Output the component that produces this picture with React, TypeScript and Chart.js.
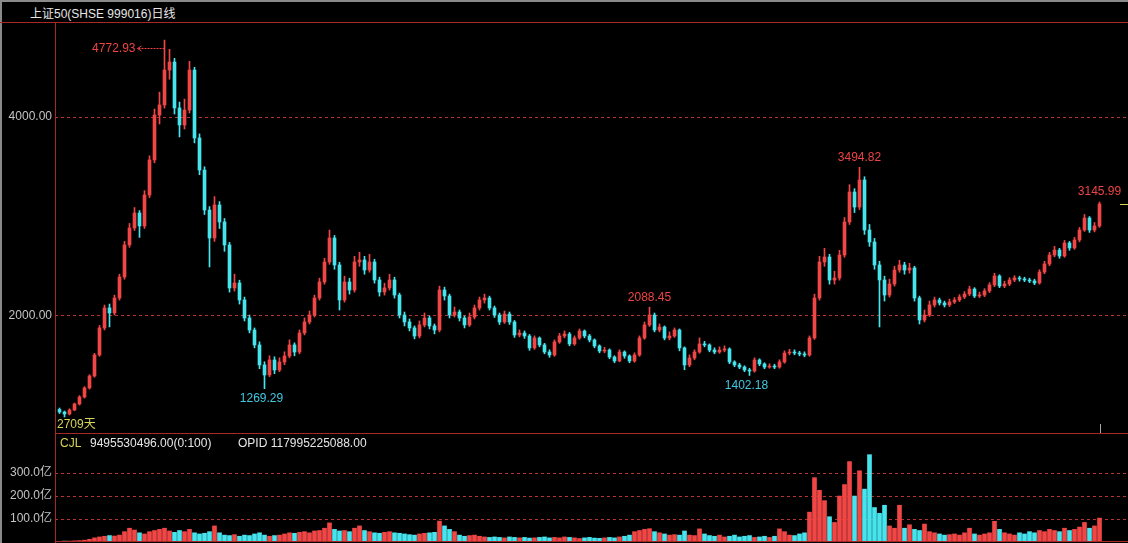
import React, { useEffect, useRef } from "react";
import { Chart, registerables } from "chart.js";

Chart.register(...registerables);

// ---------- texts ----------
const TITLE = "上证50(SHSE 999016)日线";
const DAYS_LABEL = "2709天";
const CJL_LABEL = "CJL";
const CJL_VALUE = "9495530496.00(0:100)";
const OPID_TEXT = "OPID 117995225088.00";

// ---------- data (aggregated candles, ~13 trading days each) ----------
const FIRST_OPEN = 1060;
const closes = [
  1035, 1015, 1055, 1116, 1186, 1277, 1397, 1608, 1880, 2081,
  2030, 2181, 2392, 2714, 2885, 3035, 2905, 3216, 3568, 4020,
  4121, 4472, 4553, 4091, 3920, 4070, 4472, 3789, 3467, 3065,
  2784, 3116, 2945, 2714, 2282, 2332, 2161, 1980, 1859, 1709,
  1508, 1407, 1558, 1457, 1538, 1598, 1709, 1638, 1829, 1940,
  2010, 2181, 2342, 2543, 2784, 2513, 2161, 2342, 2261, 2543,
  2563, 2462, 2543, 2362, 2241, 2282, 2362, 2211, 2010, 1940,
  1880, 1799, 1910, 1980, 1900, 1859, 2261, 2201, 2010, 2040,
  1980, 1910, 1990, 2081, 2161, 2181, 2081, 2010, 1940, 2020,
  1940, 1809, 1829, 1799, 1679, 1779, 1709, 1638, 1608, 1739,
  1799, 1819, 1719, 1779, 1849, 1799, 1759, 1699, 1648, 1658,
  1588, 1548, 1638, 1598, 1548, 1608, 1779, 1910, 2010, 1859,
  1889, 1779, 1799, 1859, 1679, 1508, 1578, 1638, 1719, 1709,
  1658, 1638, 1658, 1668, 1538, 1508, 1487, 1457, 1447, 1558,
  1518, 1487, 1497, 1487, 1538, 1628, 1638, 1628, 1618, 1608,
  1779, 2181, 2543, 2593, 2362, 2382, 2613, 2945, 3246, 3095,
  3367, 2864, 2744, 2513, 2362, 2211, 2322, 2462, 2513, 2462,
  2483, 2181, 1960, 2010, 2111, 2161, 2131, 2111, 2141, 2161,
  2191, 2221, 2271, 2201, 2211, 2251, 2312, 2402, 2302, 2322,
  2362, 2382, 2372, 2362, 2352, 2332, 2442, 2523, 2613, 2663,
  2603, 2734, 2684, 2764, 2864, 2985, 2864, 2905, 3126,
];
const highs = [
  1075, 1045, 1068, 1125, 1200, 1290, 1410, 1625, 1905, 2110,
  2120, 2210, 2420, 2750, 2930, 3090, 3060, 3260, 3610, 4080,
  4250, 4772.93, 4680, 4590, 4150, 4180, 4560, 4500, 3830, 3500,
  3100, 3200, 3150, 2980, 2740, 2420, 2360, 2190, 2010, 1880,
  1740, 1540, 1600, 1590, 1580, 1640, 1760, 1730, 1860, 1980,
  2050, 2210, 2380, 2580, 2864, 2810, 2540, 2400, 2380, 2600,
  2640, 2600, 2620, 2570, 2390, 2330, 2420, 2390, 2230, 2040,
  1970, 1900, 1950, 2030, 2000, 1920, 2300, 2290, 2220, 2090,
  2060, 2000, 2030, 2110, 2190, 2220, 2200, 2100, 2030, 2050,
  2040, 1955, 1860, 1850, 1815, 1800, 1790, 1725, 1660, 1760,
  1825, 1850, 1835, 1800, 1870, 1860, 1815, 1770, 1710, 1685,
  1670, 1600, 1660, 1650, 1610, 1630, 1800, 1940, 2088.45, 2030,
  1920, 1900, 1840, 1880, 1870, 1690, 1610, 1660, 1780, 1745,
  1720, 1680, 1690, 1700, 1680, 1550, 1525, 1500, 1475, 1580,
  1570, 1530, 1520, 1515, 1560, 1650, 1665, 1660, 1645, 1640,
  1800, 2220, 2600, 2680, 2620, 2450, 2660, 2990, 3320, 3280,
  3494.82, 3400, 2920, 2780, 2550, 2400, 2370, 2500, 2560, 2540,
  2530, 2500, 2200, 2060, 2150, 2190, 2180, 2150, 2170, 2185,
  2215, 2245, 2300, 2285, 2240, 2275, 2335, 2430, 2415, 2350,
  2385, 2405, 2400, 2390, 2380, 2370, 2465, 2550, 2640, 2700,
  2680, 2760, 2750, 2790, 2890, 3020, 3000, 2940, 3145.99,
];
const lows = [
  1020, 985, 1005, 1048, 1105, 1175, 1265, 1385, 1595, 1860,
  1890, 2010, 2160, 2370, 2690, 2860, 2790, 2880, 3190, 3540,
  3930, 4090, 4380, 4030, 3800, 3880, 4040, 3740, 3420, 3020,
  2493, 2750, 2880, 2650, 2240, 2250, 2120, 1950, 1830, 1680,
  1470, 1269.29, 1390, 1420, 1440, 1510, 1580, 1600, 1620, 1810,
  1920, 1990, 2160, 2320, 2520, 2470, 2060, 2140, 2220, 2240,
  2500, 2420, 2440, 2330, 2200, 2210, 2260, 2180, 1980, 1900,
  1850, 1770, 1780, 1890, 1870, 1820, 1840, 2160, 1980, 1990,
  1950, 1880, 1895, 1970, 2060, 2130, 2060, 1985, 1915, 1925,
  1915, 1785, 1790, 1775, 1655, 1665, 1690, 1620, 1585, 1595,
  1725, 1780, 1700, 1705, 1765, 1780, 1740, 1680, 1630, 1630,
  1570, 1530, 1540, 1575, 1530, 1535, 1595, 1765, 1895, 1840,
  1840, 1760, 1760, 1785, 1650, 1460, 1490, 1560, 1625, 1690,
  1640, 1620, 1625, 1640, 1520, 1490, 1470, 1440, 1402.18, 1435,
  1500, 1470, 1475, 1470, 1475, 1525, 1610, 1610, 1600, 1590,
  1595, 1765, 2160, 2500, 2320, 2320, 2360, 2590, 2920, 3040,
  3070, 2820, 2700, 2470, 1890, 2150, 2190, 2300, 2440, 2420,
  2430, 2150, 1920, 1940, 1995, 2090, 2110, 2090, 2095, 2125,
  2145, 2175, 2205, 2185, 2185, 2195, 2235, 2295, 2285, 2285,
  2305, 2345, 2350, 2345, 2335, 2315, 2320, 2425, 2505, 2595,
  2580, 2590, 2660, 2670, 2745, 2850, 2840, 2845, 2890,
];
// volume in 亿
const volumes = [
  3, 4, 4, 5, 6, 8, 12, 18, 22, 25,
  28, 26, 30, 45, 60, 52, 40, 35, 45, 50,
  55, 60, 48, 42, 50, 45, 55, 40, 35, 38,
  45, 70, 40, 30, 28, 32, 25, 30, 28, 35,
  40, 30, 25, 28, 30, 35, 40, 38, 42, 45,
  40, 48, 50, 60, 83, 55, 48, 50, 45, 60,
  70, 50, 45, 40, 38, 42, 45, 40, 38, 35,
  32, 30, 35, 38, 40, 42, 91, 70, 55, 45,
  30, 25, 28, 30, 25, 22, 20, 22, 20, 18,
  22, 20, 18, 20, 17, 18, 20, 22, 18, 20,
  18, 22, 20, 18, 15, 18, 20, 17, 16, 18,
  20, 18, 22, 25, 30, 45, 50, 55, 58, 45,
  40, 35, 30, 32, 30, 48, 30, 28, 57, 35,
  28, 25, 30, 22, 25, 30, 22, 25, 28, 20,
  22, 25, 20, 25, 57, 45, 30, 28, 35, 40,
  130, 280, 225, 180, 110, 85, 200, 250, 350, 200,
  310, 230, 380, 150, 125, 160, 70, 60, 160, 60,
  75, 55, 50, 78, 45, 40, 35, 30, 32, 35,
  30, 40, 60, 35, 30, 35, 40, 90, 55, 40,
  35, 30, 40, 35, 45, 40, 50, 45, 55, 50,
  45, 60, 50, 55, 65, 85, 60, 70, 104,
];

const priceTicks = [2000, 4000];
const volumeTicks = [100, 200, 300];
const peakMark = 21; // labelled with arrow
const highMarks = [118, 160, 208];
const lowMarks = [41, 138];

// ---------- styles ----------
const FONT = '"Liberation Sans", "Noto Sans CJK SC", sans-serif';
const UP = "#f04646";
const DOWN = "#46e4ec";
const FRAME = "#a82828";
const GRID = "#b83232";
const AXIS_TEXT = "#c4c4c4";
const RED_TEXT = "#ee4444";
const CYAN_TEXT = "#40c8e0";
const YELLOW = "#d8d456";
const PRICE_MIN = 824;
const PRICE_MAX = 4945;
const VOL_MAX = 470;
const X_MIN = -0.9;
const X_MAX = 213.7;

const opens = closes.map((c, i) => (i === 0 ? FIRST_OPEN : closes[i - 1]));
const colors = closes.map((c, i) => (c >= opens[i] ? UP : DOWN));

const markPlugin = {
  id: "marks",
  afterDatasetsDraw(chart: any) {
    const { ctx, chartArea } = chart;
    const xs = chart.scales.x;
    const ys = chart.scales.y;
    ctx.save();
    ctx.font = `12px ${FONT}`;
    ctx.textBaseline = "middle";
    ctx.lineWidth = 1;

    // highest point with dashed arrow
    {
      const px = xs.getPixelForValue(peakMark);
      const py = Math.round(ys.getPixelForValue(highs[peakMark]) + 8) + 0.5;
      ctx.fillStyle = RED_TEXT;
      ctx.strokeStyle = RED_TEXT;
      ctx.textAlign = "right";
      ctx.fillText(highs[peakMark].toFixed(2), px - 29, py);
      ctx.setLineDash([2, 1]);
      ctx.beginPath();
      ctx.moveTo(px - 26, py);
      ctx.lineTo(px, py);
      ctx.stroke();
      ctx.setLineDash([]);
      ctx.beginPath();
      ctx.moveTo(px - 23, py - 2.5);
      ctx.lineTo(px - 27, py);
      ctx.lineTo(px - 23, py + 2.5);
      ctx.stroke();
    }
    ctx.textAlign = "center";
    ctx.fillStyle = RED_TEXT;
    for (const i of highMarks) {
      const px = xs.getPixelForValue(i);
      const py = ys.getPixelForValue(highs[i]) - 10;
      ctx.fillText(highs[i].toFixed(2), px, py);
    }
    ctx.fillStyle = CYAN_TEXT;
    for (const i of lowMarks) {
      const px = xs.getPixelForValue(i) - 3;
      const py = ys.getPixelForValue(lows[i]) + 10;
      ctx.fillText(lows[i].toFixed(2), px, py);
    }
    // last price marker on the right edge
    const last = closes.length - 1;
    const ly = Math.round(ys.getPixelForValue(closes[last])) + 0.5;
    ctx.strokeStyle = YELLOW;
    ctx.beginPath();
    ctx.moveTo(chartArea.right - 8, ly);
    ctx.lineTo(chartArea.right, ly);
    ctx.stroke();
    // cursor tick at last bar
    const lx = Math.round(xs.getPixelForValue(last)) + 0.5;
    ctx.strokeStyle = "#a8a8a8";
    ctx.beginPath();
    ctx.moveTo(lx, chartArea.bottom - 9);
    ctx.lineTo(lx, chartArea.bottom);
    ctx.stroke();
    ctx.restore();
  },
};

const xScale: any = { type: "linear", min: X_MIN, max: X_MAX, display: false, offset: false };

function yAxis(min: number, max: number, ticks: number[], fmt: (v: number) => string): any {
  return {
    min,
    max,
    position: "left",
    afterBuildTicks: (s: any) => {
      s.ticks = ticks.map((v) => ({ value: v }));
    },
    afterFit: (s: any) => {
      s.width = 55;
      s.paddingTop = 0;
      s.paddingBottom = 0;
    },
    ticks: {
      color: AXIS_TEXT,
      font: { family: FONT, size: 12 },
      padding: 3,
      autoSkip: false,
      callback: (v: any) => fmt(Number(v)),
    },
    grid: { color: GRID, drawTicks: false, lineWidth: 1 },
    border: { display: false, dash: [3, 3] },
  };
}

const common: any = {
  responsive: false,
  maintainAspectRatio: false,
  animation: false,
  devicePixelRatio: 1,
  events: [],
  layout: { padding: 0 },
  plugins: { legend: { display: false }, tooltip: { enabled: false } },
};

export default function App() {
  const priceRef = useRef<HTMLCanvasElement>(null);
  const volRef = useRef<HTMLCanvasElement>(null);

  useEffect(() => {
    const price = new Chart(priceRef.current as HTMLCanvasElement, {
      type: "bar",
      data: {
        datasets: [
          {
            data: closes.map((c, i) => ({ x: i, y: [lows[i], highs[i]] })) as any,
            backgroundColor: colors,
            barThickness: 1,
            grouped: false,
            order: 2,
          } as any,
          {
            data: closes.map((c, i) => ({ x: i, y: [opens[i], c] })) as any,
            backgroundColor: colors,
            barThickness: 3,
            minBarLength: 1,
            grouped: false,
            order: 1,
          } as any,
        ],
      },
      options: {
        ...common,
        scales: {
          x: xScale,
          y: yAxis(PRICE_MIN, PRICE_MAX, priceTicks, (v) => v.toFixed(2)),
        },
      },
      plugins: [markPlugin],
    });

    const vol = new Chart(volRef.current as HTMLCanvasElement, {
      type: "bar",
      data: {
        datasets: [
          {
            data: volumes.map((v, i) => ({ x: i, y: v })) as any,
            backgroundColor: colors,
            barThickness: 4,
            grouped: false,
          } as any,
        ],
      },
      options: {
        ...common,
        scales: {
          x: xScale,
          y: yAxis(0, VOL_MAX, volumeTicks, (v) => `${v.toFixed(1)}亿`),
        },
      },
    });

    return () => {
      price.destroy();
      vol.destroy();
    };
  }, []);

  const text = (left: number, cy: number, color: string): React.CSSProperties => ({
    position: "absolute",
    left,
    top: cy - 7,
    lineHeight: "14px",
    color,
    whiteSpace: "nowrap",
  });
  const line = (left: number, top: number, width: number, height: number, bg: string): React.CSSProperties => ({
    position: "absolute",
    left,
    top,
    width,
    height,
    background: bg,
  });

  return (
    <div
      style={{
        position: "fixed",
        left: 0,
        top: 0,
        width: 1128,
        height: 543,
        background: "#000",
        overflow: "hidden",
        fontFamily: FONT,
        fontSize: 12,
      }}
    >
      <canvas ref={priceRef} width={1128} height={410} style={{ position: "absolute", left: 0, top: 23 }} />
      <canvas ref={volRef} width={1128} height={108} style={{ position: "absolute", left: 0, top: 434 }} />

      <div style={line(0, 0, 1128, 2, "#8a8a8a")} />
      <div style={line(0, 0, 2, 543, "#8a8a8a")} />
      <div style={line(0, 22, 1128, 1, FRAME)} />
      <div style={line(55, 22, 1, 521, FRAME)} />
      <div style={line(55, 433, 1073, 1, FRAME)} />
      <div style={line(55, 541, 1073, 1, FRAME)} />

      <span style={text(30, 14, "#e6e6e6")}>{TITLE}</span>
      <span style={text(57, 424, YELLOW)}>{DAYS_LABEL}</span>
      <span style={text(60, 443, YELLOW)}>{CJL_LABEL}</span>
      <span style={text(90, 443, "#e6e6e6")}>{CJL_VALUE}</span>
      <span style={text(238, 443, "#e6e6e6")}>{OPID_TEXT}</span>
    </div>
  );
}
